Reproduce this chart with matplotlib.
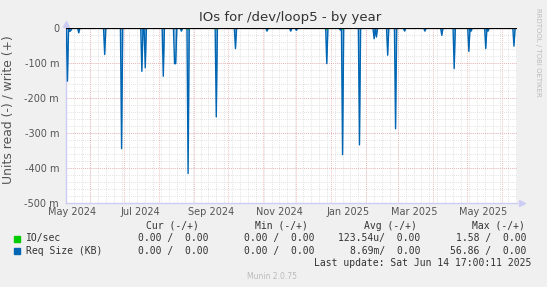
"""
Munin yearly graph: IOs for /dev/loop5.
"""
from datetime import datetime, timedelta
import numpy as np
import pandas as pd
import matplotlib
matplotlib.use('Agg')
import matplotlib.pyplot as plt
import matplotlib.dates as mdates
from matplotlib.patches import Rectangle

# Read side spikes of "Req Size (KB)" (negative, in milli units), by day
req_dates = ['2024-05-12', '2024-05-14', '2024-05-15', '2024-05-22', '2024-06-14',
             '2024-06-29', '2024-07-17', '2024-07-20', '2024-08-05', '2024-08-15',
             '2024-08-16', '2024-08-21', '2024-08-27', '2024-09-21', '2024-10-08',
             '2024-11-05', '2024-11-26', '2024-12-01', '2024-12-28', '2025-01-09',
             '2025-01-11', '2025-01-26', '2025-02-08', '2025-02-10', '2025-02-20',
             '2025-02-27', '2025-03-07', '2025-03-25', '2025-04-09', '2025-04-20',
             '2025-05-03', '2025-05-05', '2025-05-18', '2025-05-20', '2025-06-12']
req_vals = [-151, -9, -6, -13, -75,
            -344, -123, -113, -137, -101,
            -101, -8, -415, -253, -58,
            -8, -8, -6, -101, -5,
            -361, -333, -30, -25, -77,
            -287, -8, -8, -20, -115,
            -66, -8, -58, -8, -51]

# Read side of "IO/sec" (tiny, only visible as green dots near zero)
io_dates = ['2024-08-27', '2024-09-21', '2024-12-28', '2025-01-11']
io_vals = [-2, -2, -2, -2]

y_ticks = [0, -100, -200, -300, -400, -500]
y_labels = ['0', '-100 m', '-200 m', '-300 m', '-400 m', '-500 m']

legend_header = ['Cur (-/+)', 'Min (-/+)', 'Avg (-/+)', 'Max (-/+)']
legend_names = ['IO/sec', 'Req Size (KB)']
legend_values = [['0.00 /  0.00', '0.00 /  0.00', '123.54u/  0.00', '1.58 /  0.00'],
                 ['0.00 /  0.00', '0.00 /  0.00', '8.69m/  0.00', '56.86 /  0.00']]
legend_colors = ['#00CC00', '#0066B3']

start = datetime(2024, 5, 10, 17, 0)
end = start + timedelta(days=400)

days = pd.date_range('2024-05-09', '2025-06-16', freq='D')
req = pd.Series(0.0, index=days)
req[pd.to_datetime(req_dates)] = req_vals
io = pd.Series(0.0, index=days)
io[pd.to_datetime(io_dates)] = io_vals

W, H = 547, 287
fig = plt.figure(figsize=(W / 100, H / 100), dpi=100, facecolor='#F0F0F0')
x0, x1, ytop, ybot = 66, 517, 28.3, 203.3
ax = fig.add_axes([x0 / W, 1 - ybot / H, (x1 - x0) / W, (ybot - ytop) / H])
ax.set_facecolor('white')
ax.set_xlim(start, end)
ax.set_ylim(-500, 0)

# Grid: weekly / 20 m minor (grey), monthly / 100 m major (red)
wk = pd.date_range('2024-05-11', end, freq='7D')
for d in wk:
    ax.axvline(d, color='#D8D8D8', lw=0.6, ls=(0, (1, 1.5)), zorder=0)
for v in range(-480, 0, 20):
    ax.axhline(v, color='#D8D8D8', lw=0.6, ls=(0, (1, 1.5)), zorder=0)
months = pd.date_range('2024-06-01', end, freq='MS')
for d in months:
    ax.axvline(d, color='#EBA8A8', lw=0.6, ls=(0, (1, 1.5)), zorder=0.5)
for v in y_ticks[1:-1]:
    ax.axhline(v, color='#EBA8A8', lw=0.6, ls=(0, (1, 1.5)), zorder=0.5)

ax.fill_between(req.index, req.values, 0, color='#0066B3', alpha=0.45, lw=0, zorder=2)
ax.plot(req.index, req.values, color='#0066B3', lw=1.0, zorder=3)
ax.plot(io.index, io.values, color='#00CC00', lw=1.0, zorder=4)
ax.axhline(0, color='black', lw=0.9, zorder=5)

# Axes look
for s in ['top', 'right']:
    ax.spines[s].set_visible(False)
for s in ['left', 'bottom']:
    ax.spines[s].set_color('#CCCCF5')
    ax.spines[s].set_linewidth(1.0)
ax.plot([1.012], [0], marker='>', ms=5, color='#CCCCF5', transform=ax.transAxes, clip_on=False)
ax.plot([0], [1.025], marker='^', ms=5, color='#CCCCF5', transform=ax.transAxes, clip_on=False)

ax.set_yticks(y_ticks)
ax.set_yticklabels(y_labels)
label_days = pd.date_range('2024-05-01', end, freq='2MS') + pd.Timedelta(days=15)
ax.set_xticks(label_days)
ax.xaxis.set_major_formatter(mdates.DateFormatter('%b %Y'))
ax.tick_params(length=0, labelsize=7, colors='#555555', pad=3)
ax.tick_params(axis='y', pad=5)

ax.set_ylabel('Units read (-) / write (+)', fontsize=8.9, color='#555555')
ax.yaxis.set_label_coords(-51 / (x1 - x0), (ybot - 110) / (ybot - ytop))

fig.text(290 / W, 1 - 18 / H, 'IOs for /dev/loop5 - by year', ha='center', va='center',
         fontsize=9.5, color='#333333')
fig.text(538 / W, 1 - 8 / H, 'RRDTOOL / TOBI OETIKER', rotation=270, ha='center', va='top',
         fontsize=5, color='#BBBBBB')

# Legend
mono = 'DejaVu Sans Mono'
col_hdr_right = [199, 308, 417, 525]
col_val_right = [209, 315, 420, 526]
for hx, txt in zip(col_hdr_right, legend_header):
    fig.text(hx / W, 1 - 226 / H, txt, ha='right', va='center', family=mono,
             fontsize=7, color='#333333')
for i, (name, vals, c) in enumerate(zip(legend_names, legend_values, legend_colors)):
    yy = 238.5 + i * 12.5
    fig.patches.append(Rectangle((13.5 / W, 1 - (yy + 3) / H), 6 / W, 6 / H,
                                 transform=fig.transFigure, color=c, figure=fig))
    fig.text(26 / W, 1 - yy / H, name, ha='left', va='center', family=mono,
             fontsize=7, color='#333333')
    for vx, v in zip(col_val_right, vals):
        fig.text(vx / W, 1 - yy / H, v, ha='right', va='center', family=mono,
                 fontsize=7, color='#333333')
fig.text(531 / W, 1 - 263.5 / H, 'Last update: Sat Jun 14 17:00:11 2025', ha='right',
         va='center', family=mono, fontsize=7, color='#333333')
fig.text(272 / W, 1 - 276.5 / H, 'Munin 2.0.75', ha='center', va='center',
         fontsize=5.5, color='#BBBBBB')

fig.savefig('out.png', dpi=100, facecolor=fig.get_facecolor())
